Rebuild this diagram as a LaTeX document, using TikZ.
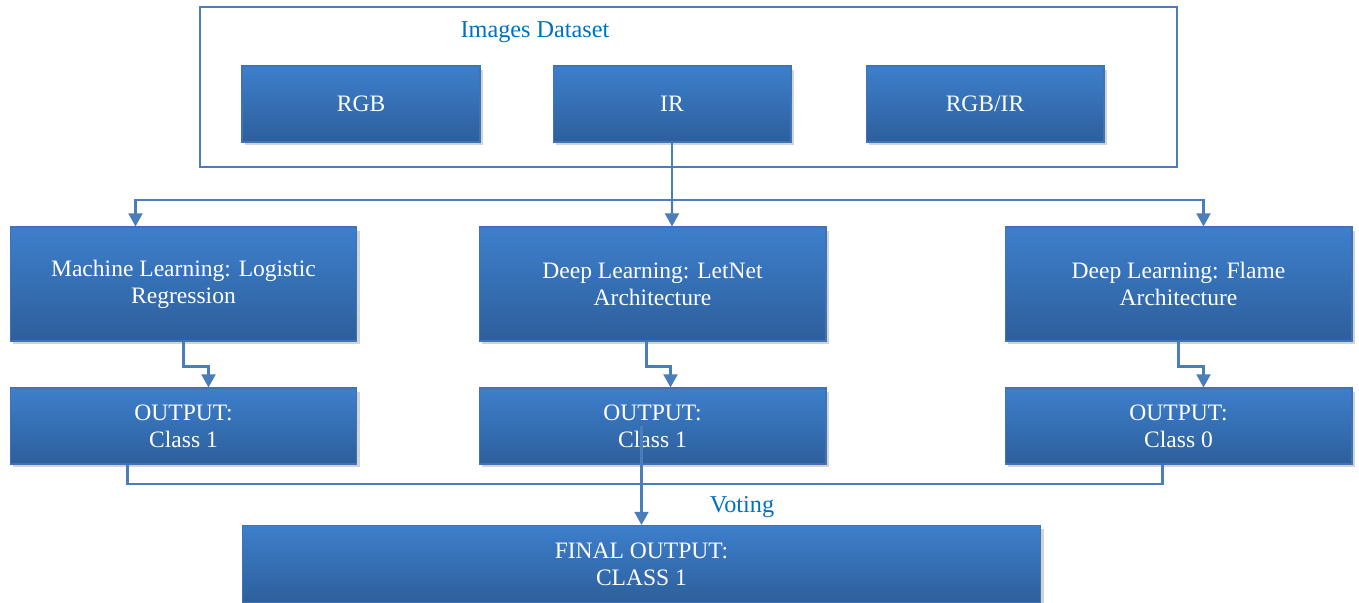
\documentclass[tikz,border=0pt]{standalone}
\usepackage{fontspec}
\setmainfont{Liberation Serif}
\usepackage{tikz}
\usetikzlibrary{positioning, shapes, arrows.meta, shadows, calc}
\definecolor{BoxTop}{RGB}{61, 127, 204}
\definecolor{BoxBottom}{RGB}{45, 95, 155}
\definecolor{BoxEdge}{RGB}{63, 115, 181}
\definecolor{LinkBlue}{RGB}{74, 126, 187}
\definecolor{LabelBlue}{RGB}{0, 112, 192}

\begin{document}
\begin{tikzpicture}[
    x=0.02cm, y=-0.02cm,
    box/.style={rectangle, draw=BoxEdge, line width=0.6pt, top color=BoxTop, bottom color=BoxBottom,
      text=white, align=center, inner sep=0pt, font=\fontsize{13.4}{15.3}\selectfont,
      drop shadow={opacity=0.35, shadow xshift=0.06cm, shadow yshift=-0.07cm}},
    source/.style={box, minimum width=4.76cm, minimum height=1.52cm},
    method/.style={box, minimum width=6.94cm, minimum height=2.28cm},
    result/.style={box, minimum width=6.94cm, minimum height=1.52cm},
    label/.style={text=LabelBlue, font=\fontsize{13.8}{15}\selectfont},
    link/.style={LinkBlue, line width=1.2pt, -{Triangle[width=8pt,length=7.5pt]}}
  ]
    \clip (0,0) rectangle (1359,602);

    % Dataset frame
    \draw[LinkBlue, line width=0.9pt] (200,7) rectangle (1177,167);
    \node[label] (dataset) at (535,32) {Images Dataset};

    % Image types
    \foreach \n/\x/\t in {rgb/361/RGB, ir/672/IR, rgbir/985/{RGB/IR}} {
      \node[source] (\n) at (\x,104) {\t};
    }

    % Models
    \foreach \n/\x/\t in {ml/183.5/{Machine Learning: Logistic\\Regression},
                          dlnet/652.5/{Deep Learning: LetNet\\Architecture},
                          flame/1178.5/{Deep Learning: Flame\\Architecture}} {
      \node[method] (\n) at (\x,284) {\t};
    }

    % Outputs
    \foreach \i/\x/\c in {1/183.5/1, 2/652.5/1, 3/1178.5/0} {
      \node[result] (out\i) at (\x,426) {OUTPUT:\\Class \c};
    }

    % Final output
    \node[box, minimum width=15.98cm, minimum height=1.54cm] (final) at (641.5,564) {FINAL OUTPUT:\\CLASS 1};
    \node[label] (voting) at (742,507) {Voting};

    % Dataset to models
    \coordinate (hub) at (672,200);
    \draw[LinkBlue, line width=1.2pt] (ir.south) -- (hub);
    \draw[link] (hub) -| ($(ml.north)+(-48,0)$);
    \draw[link] (hub) -- ($(dlnet.north)+(19.5,0)$);
    \draw[link] (hub) -| ($(flame.north)+(25,0)$);

    % Models to outputs
    \draw[link] (ml.south) -- ++(0,25) -| ($(out1.north)+(25,0)$);
    \draw[link] ($(dlnet.south)+(-6,0)$) -- ++(0,25) -| ($(out2.north)+(18,0)$);
    \draw[link] (flame.south) -- ++(0,25) -| ($(out3.north)+(25,0)$);

    % Voting
    \coordinate (vote) at (641.5,484);
    \draw[LinkBlue, line width=1.2pt] ($(out1.south)+(-56,0)$) |- (vote);
    \draw[LinkBlue, line width=1.2pt] ($(out3.south)+(-16,0)$) |- (vote);
    \draw[link] (out2.center -| final.north) -- (final.north);
  \end{tikzpicture}
\end{document}
